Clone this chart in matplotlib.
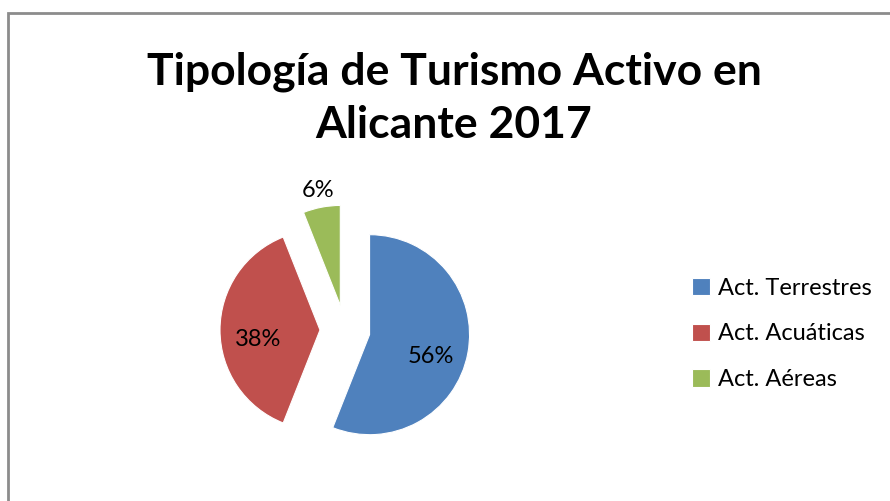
import numpy as np
import matplotlib.pyplot as plt
from matplotlib.patches import Rectangle

# chart data
categories = ['Act. Terrestres', 'Act. Acuáticas', 'Act. Aéreas']
shares = [56, 38, 6]
colors = ['#4F81BD', '#C0504D', '#9BBB59']
title = 'Tipología de Turismo Activo en\nAlicante 2017'

plt.rcParams['font.family'] = ['Lato', 'DejaVu Sans']

fig = plt.figure(figsize=(8.9, 5.01), dpi=100)

# chart area frame (runs off the right and bottom edges)
fig.patches.append(Rectangle((8 / 890, -0.1), 1.2, 1 - 13 / 501 + 0.1,
                             transform=fig.transFigure, fill=False,
                             edgecolor='#8c8c8c', linewidth=2))

fig.text(454 / 890, 1 - 98 / 501, title, ha='center', va='center',
         fontsize=32, fontweight='bold', linespacing=1.4)

ax = fig.add_axes([195 / 890, 21 / 501, 300 / 890, 300 / 501])
wedges, texts, autotexts = ax.pie(
    shares, colors=colors, startangle=90, counterclock=False,
    explode=[0.25, 0.25, 0.25], radius=1.0,
    autopct='%1.0f%%', pctdistance=0.62,
    wedgeprops=dict(linewidth=0.8, edgecolor='white'),
    textprops=dict(fontsize=17, color='black'))
ax.set_xlim(-1.5, 1.5)
ax.set_ylim(-1.5, 1.5)
ax.set_aspect('equal')
ax.axis('off')

# small slice: label sits outside the wedge
w = wedges[2]
mid = np.deg2rad((w.theta1 + w.theta2) / 2)
cx, cy = w.center
autotexts[2].set_position((cx + 1.17 * np.cos(mid), cy + 1.17 * np.sin(mid)))
for t in autotexts[:2]:
    x, y = t.get_position()
    t.set_position((x, y - 0.1))

leg = fig.legend(wedges, categories, loc='center left',
                 bbox_to_anchor=(671 / 890, 1 - 334 / 501), frameon=False,
                 fontsize=17, handlelength=0.75, handleheight=0.75,
                 handletextpad=0.35, labelspacing=1.05)

plt.savefig('out.png', dpi=100)
